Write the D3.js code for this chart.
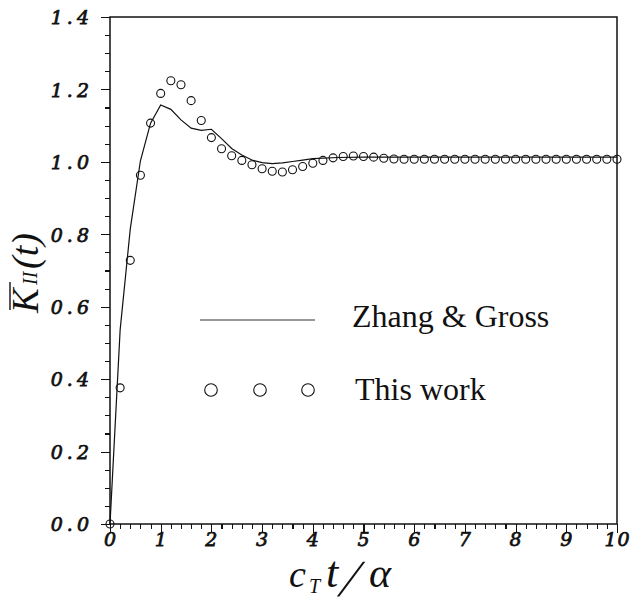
<!DOCTYPE html>
<html>
<head>
<meta charset="utf-8">
<script src="https://cdn.jsdelivr.net/npm/d3@7"></script>
<style>
  body { margin: 0; background: #fff; }
  svg { display: block; }
</style>
</head>
<body>
<div id="chart"></div>
<script>
// Zhang & Gross (solid line)
const tZhang = [0, 0.2, 0.4, 0.6, 0.8, 1.0, 1.2, 1.4, 1.6, 1.8, 2.0, 2.2, 2.4, 2.6, 2.8, 3.0,
  3.2, 3.4, 3.6, 3.8, 4.0, 4.5, 5, 6, 7, 8, 9, 10];
const kZhang = [0, 0.536, 0.815, 1.003, 1.107, 1.157, 1.145, 1.116, 1.093, 1.087, 1.090, 1.064,
  1.037, 1.019, 1.005, 0.998, 0.995, 0.997, 1.001, 1.005, 1.009, 1.012, 1.013, 1.013, 1.013,
  1.013, 1.013, 1.013];

// This work (open circles)
const tWork = [0, 0.2, 0.4, 0.6, 0.8, 1.0, 1.2, 1.4, 1.6, 1.8, 2.0, 2.2, 2.4, 2.6, 2.8, 3.0,
  3.2, 3.4, 3.6, 3.8, 4.0, 4.2, 4.4, 4.6, 4.8, 5.0, 5.2, 5.4, 5.6, 5.8, 6.0, 6.2, 6.4, 6.6,
  6.8, 7.0, 7.2, 7.4, 7.6, 7.8, 8.0, 8.2, 8.4, 8.6, 8.8, 9.0, 9.2, 9.4, 9.6, 9.8, 10.0];
const kWork = [0, 0.376, 0.728, 0.963, 1.107, 1.189, 1.224, 1.213, 1.169, 1.114, 1.067, 1.036,
  1.017, 1.004, 0.992, 0.981, 0.974, 0.972, 0.978, 0.987, 0.996, 1.004, 1.011, 1.015, 1.016,
  1.015, 1.013, 1.010, 1.008, 1.007, 1.007, 1.007, 1.007, 1.007, 1.007, 1.007, 1.007, 1.007,
  1.007, 1.007, 1.007, 1.007, 1.007, 1.007, 1.007, 1.007, 1.007, 1.007, 1.007, 1.007, 1.007];

const xMajor = [0, 1, 2, 3, 4, 5, 6, 7, 8, 9, 10];
const yMajor = [0, 0.2, 0.4, 0.6, 0.8, 1.0, 1.2, 1.4];
const legendNames = ["Zhang & Gross", "This work"];

const width = 634, height = 599;
const margin = {top: 17, right: 17, bottom: 75, left: 110};
const serif = "'Liberation Serif', 'Times New Roman', serif";
const tickFont = "'DejaVu Serif', serif";

const svg = d3.select("#chart").append("svg")
  .attr("width", width)
  .attr("height", height);

const x = d3.scaleLinear().domain([0, 10]).range([margin.left, width - margin.right]);
const y = d3.scaleLinear().domain([0, 1.4]).range([height - margin.bottom, margin.top]);

// minor ticks
const xMinor = x.ticks(50).filter(v => !xMajor.includes(v));
const yMinor = y.ticks(35).filter(v => !yMajor.some(m => Math.abs(m - v) < 1e-9));

const styleTicks = g => g.selectAll("line")
  .attr("stroke", "#111").attr("stroke-width", 1.1).attr("shape-rendering", "crispEdges");

const styleLabels = (g, spacing) => g
  .attr("font-family", tickFont)
  .attr("font-size", 19)
  .selectAll("text")
  .attr("font-style", "italic")
  .attr("fill", "#111")
  .attr("stroke", "#111")
  .attr("stroke-width", 0.75)
  .style("letter-spacing", spacing);

svg.append("g")
  .attr("transform", `translate(0,${y(0)})`)
  .call(d3.axisBottom(x).tickValues(xMinor).tickSize(5).tickFormat(""))
  .call(g => g.select(".domain").remove())
  .call(styleTicks);

svg.append("g")
  .attr("transform", `translate(${x(0)},0)`)
  .call(d3.axisLeft(y).tickValues(yMinor).tickSize(5).tickFormat(""))
  .call(g => g.select(".domain").remove())
  .call(styleTicks);

// major ticks + labels
svg.append("g")
  .attr("transform", `translate(0,${y(0)})`)
  .call(d3.axisBottom(x).tickValues(xMajor).tickSize(9).tickPadding(0).tickSizeOuter(0).tickFormat(d3.format("d")))
  .call(g => g.select(".domain").remove())
  .call(styleTicks)
  .call(g => styleLabels(g, "1px"));

svg.append("g")
  .attr("transform", `translate(${x(0)},0)`)
  .call(d3.axisLeft(y).tickValues(yMajor).tickSize(9).tickPadding(8).tickSizeOuter(0).tickFormat(d3.format(".1f")))
  .call(g => g.select(".domain").remove())
  .call(styleTicks)
  .call(g => styleLabels(g, "4px"))
  .call(g => g.selectAll("text").attr("dy", "0.36em"));

// frame
svg.append("rect")
  .attr("x", x(0)).attr("y", y(1.4))
  .attr("width", x(10) - x(0)).attr("height", y(0) - y(1.4))
  .attr("fill", "none").attr("stroke", "#111").attr("stroke-width", 1.5);

// Zhang & Gross line
const line = d3.line().x((d, i) => x(tZhang[i])).y(d => y(d));
svg.append("path")
  .datum(kZhang)
  .attr("d", line)
  .attr("fill", "none")
  .attr("stroke", "#111")
  .attr("stroke-width", 1.2);

// This work circles
svg.append("g").selectAll("circle")
  .data(kWork)
  .join("circle")
  .attr("cx", (d, i) => x(tWork[i]))
  .attr("cy", d => y(d))
  .attr("r", 4)
  .attr("fill", "none")
  .attr("stroke", "#111")
  .attr("stroke-width", 1.1);

// legend
const legend = svg.append("g").attr("font-family", serif).attr("font-size", 32).attr("fill", "#111");
legend.append("line")
  .attr("x1", 200).attr("x2", 315).attr("y1", 320).attr("y2", 320)
  .attr("stroke", "#333").attr("stroke-width", 1.1);
legend.append("text").attr("x", 352).attr("y", 327).text(legendNames[0]);
legend.selectAll("circle.leg")
  .data([211, 260, 308])
  .join("circle")
  .attr("class", "leg")
  .attr("cx", d => d).attr("cy", 390).attr("r", 6.3)
  .attr("fill", "none").attr("stroke", "#111").attr("stroke-width", 1.1);
legend.append("text").attr("x", 355).attr("y", 400).text(legendNames[1]);

// y axis title: K-bar_II(t)
const yt = svg.append("g").attr("transform", "translate(38,312) rotate(-90)")
  .attr("font-family", serif).attr("font-style", "italic").attr("fill", "#111");
yt.append("text").attr("x", -1).attr("y", 0).attr("font-size", 37).text("K");
yt.append("text").attr("x", 27).attr("y", -1).attr("font-size", 20).text("II");
yt.append("text").attr("x", 43).attr("y", 0).attr("font-size", 38).text("(t)");
yt.append("line").attr("x1", 2).attr("x2", 30).attr("y1", -28).attr("y2", -28)
  .attr("stroke", "#111").attr("stroke-width", 1.4);

// x axis title: c_T t / alpha
const xt = svg.append("g")
  .attr("font-family", serif).attr("font-style", "italic").attr("fill", "#111");
xt.append("text").attr("x", 289).attr("y", 587).attr("font-size", 38).text("c");
xt.append("text").attr("x", 309).attr("y", 593).attr("font-size", 20).text("T");
xt.append("text").attr("x", 326).attr("y", 587).attr("font-size", 44).text("t");
xt.append("text").attr("transform", "translate(337,596) skewX(-22)")
  .attr("font-size", 52).attr("font-style", "normal").text("/");
xt.append("text").attr("x", 369).attr("y", 587).attr("font-size", 42).text("α");
</script>
</body>
</html>
